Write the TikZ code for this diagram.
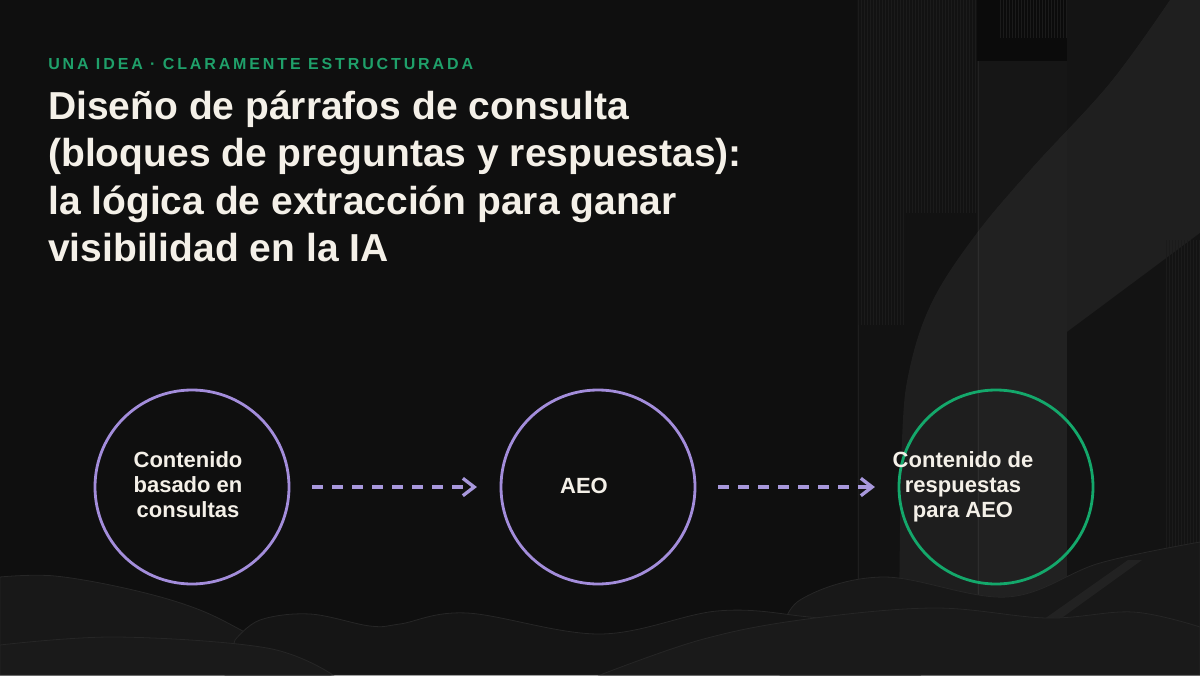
\documentclass[tikz,border=0pt]{standalone}
\usepackage{fontspec}
\setmainfont{Liberation Sans}
\newfontfamily\tagfont{Liberation Sans}[LetterSpace=18]
\usetikzlibrary{arrows.meta}
\definecolor{bg}{HTML}{0F0F0F}
\definecolor{lav}{HTML}{A38DDB}
\definecolor{lavarrow}{HTML}{A898DC}
\definecolor{grn}{HTML}{14A86B}
\definecolor{taggrn}{HTML}{1FA06A}
\definecolor{cream}{HTML}{F4F0E8}
\definecolor{stripe}{HTML}{1B1B1B}
\definecolor{colgray}{HTML}{161616}
\definecolor{stripebg}{HTML}{121212}
\definecolor{stripeline}{HTML}{1E1E1E}
\definecolor{topdark}{HTML}{0B0B0B}
\definecolor{coledge}{HTML}{222222}
\definecolor{rightgray}{HTML}{141414}
\definecolor{wedge}{HTML}{131313}
\definecolor{streak}{HTML}{222222}
\definecolor{hillA}{HTML}{181818}
\definecolor{hillB}{HTML}{151515}
\definecolor{hillC}{HTML}{1A1A1A}
\definecolor{hilledge}{HTML}{262626}
\begin{document}
\begin{tikzpicture}[x=0.75pt,y=-0.75pt,
  tagline/.style={anchor=base west, inner sep=0pt, text=taggrn, font=\tagfont\bfseries\fontsize{12pt}{14pt}\selectfont},
  titleline/.style={anchor=base west, inner sep=0pt, text=cream, font=\bfseries\fontsize{29.25pt}{35pt}\selectfont},
  ring/.style={circle, draw=#1, line width=2.1pt, minimum size=145.5pt, inner sep=0pt},
  ctext/.style={inner sep=0pt, text=cream, align=center, font=\bfseries\fontsize{16.5pt}{18.75pt}\selectfont},
  flow/.style={draw=lavarrow, line width=2.5pt, dash pattern=on 7.9pt off 7.1pt,
    -{Straight Barb[length=8.5pt,width=13pt,line width=2.5pt]}, shorten <=16.5pt, shorten >=17pt},
  hill/.style={fill=#1, draw=hilledge, line width=0.6pt}
]
\useasboundingbox (0,0) rectangle (1200,675);
\fill[bg] (0,0) rectangle (1200,675);

% ---- right-hand backdrop ----
\fill[stripebg] (857,0) rectangle (977,620);
\foreach \x in {858,861,...,904} \draw[stripe, line width=0.4pt] (\x,0) -- (\x,325);
\foreach \x in {906,909,...,976} \draw[stripe, line width=0.4pt] (\x,0) -- (\x,213);
\draw[stripeline, line width=0.6pt] (858,325) -- (858,620);
\fill[topdark] (977,0) rectangle (1067,61);
\foreach \x in {1000,1003,...,1066} \draw[stripe, line width=0.4pt] (\x,0) -- (\x,38);
\fill[colgray] (977,61) rectangle (1067,620);
\draw[coledge, line width=0.7pt] (978,61) -- (978,620);
\fill[rightgray] (1067,0) rectangle (1200,620);
% translucent band
\fill[white, opacity=0.05] plot[smooth, tension=0.6] coordinates {(1170,0) (1110,83) (1033,167) (977,233) (933,300) (910,367) (902,440) (899,620)} -- (1200,620) -- (1200,0) -- cycle;
% dark lower-right wedge
\fill[wedge] (1067,332) -- (1200,233) -- (1200,620) -- (1067,620) -- cycle;
\foreach \x in {1166,1169,...,1199} \draw[stripe, line width=0.4pt] (\x,240) -- (\x,620);

% ---- hills ----
\path[hill=hillA] (780,675) -- plot[smooth, tension=0.6] coordinates {(780,640) (800,600) (883,577) (1007,597) (1100,563) (1200,542)} -- (1200,675) -- cycle;
\path[hill=hillA] (0,675) -- plot[smooth, tension=0.6] coordinates {(0,577) (55,576) (133,590) (200,610) (260,640) (330,675)} -- cycle;
\path[hill=hillB] (225,675) -- plot[smooth, tension=0.6] coordinates {(235,640) (260,620) (310,614) (370,626) (400,624) (467,613) (600,634) (717,611) (800,616) (860,628) (920,675)} -- cycle;
\path[hill=hillC] (0,675) -- plot[smooth, tension=0.6] coordinates {(0,645) (117,637) (267,648) (333,675)} -- cycle;
\fill[streak] (1040,622) -- (1128,560) -- (1142,560) -- (1056,622) -- cycle;
\path[hill=hillC] (600,675) -- plot[smooth, tension=0.6] coordinates {(600,675) (700,640) (800,620) (933,608) (1047,618) (1133,612) (1200,627)} -- (1200,675) -- cycle;

% ---- heading ----
\node[tagline] (tag) at (48,69) {UNA IDEA · CLARAMENTE ESTRUCTURADA};
\node[titleline] (t1) at (48,119) {Diseño de párrafos de consulta};
\node[titleline] (t2) at (48,166.5) {(bloques de preguntas y respuestas):};
\node[titleline] (t3) at (48,214) {la lógica de extracción para ganar};
\node[titleline] (t4) at (48,261.5) {visibilidad en la IA};

% ---- flow ----
\node[ring=lav] (c1) at (192,487) {};
\node[ring=lav] (c2) at (598,487) {};
\node[ring=grn] (c3) at (996,487) {};
\node[ctext, anchor=north] (l1) at (188,451.5) {Contenido\\basado en\\consultas};
\node[ctext, anchor=base] (l2) at (584,493) {AEO};
\node[ctext, anchor=north] (l3) at (963,451.5) {Contenido de\\respuestas\\para AEO};
\draw[flow] (c1) -- (c2);
\draw[flow] (c2) -- (c3);
\end{tikzpicture}
\end{document}
